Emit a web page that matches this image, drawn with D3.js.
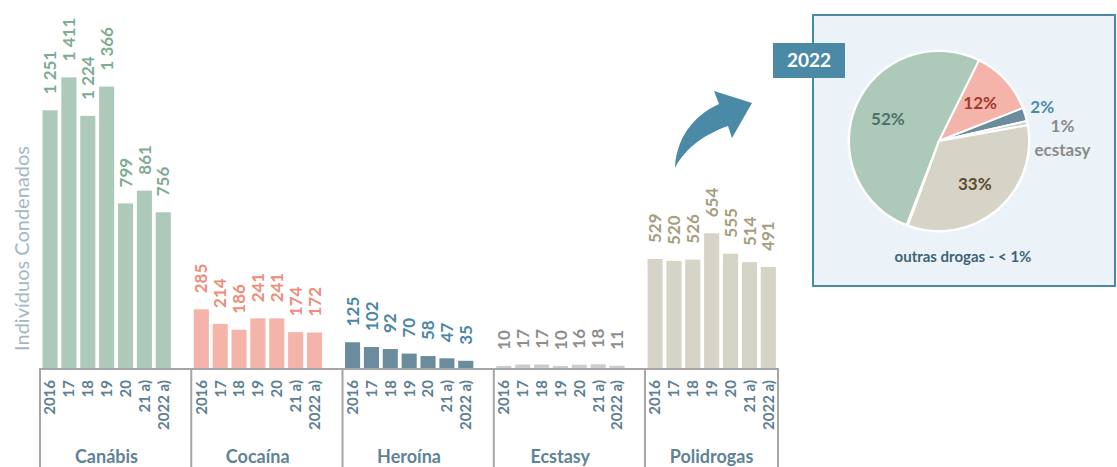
<!DOCTYPE html>
<html><head><meta charset="utf-8">
<script src="https://cdn.jsdelivr.net/npm/d3@7"></script>
<style>body{margin:0;background:#fff}svg{display:block}</style>
</head><body>
<svg id="c" width="1117" height="467"></svg>
<script>
// ---- data ----
const categories = ["Canábis", "Cocaína", "Heroína", "Ecstasy", "Polidrogas"];
const years = ["2016", "17", "18", "19", "20", "21 a)", "2022 a)"];
const canabis = [1251, 1411, 1224, 1366, 799, 861, 756];
const cocaina = [285, 214, 186, 241, 241, 174, 172];
const heroina = [125, 102, 92, 70, 58, 47, 35];
const ecstasy = [10, 17, 17, 10, 16, 18, 11];
const polidrogas = [529, 520, 526, 654, 555, 514, 491];
const pieNames = ["Canábis", "Cocaína", "Heroína", "Ecstasy", "Polidrogas", "Outras"];
const pieValues = [756, 172, 35, 11, 491, 3];
const pieLabels = ["52%", "12%", "2%", "1%", "33%", ""];

// ---- styles ----
const barColors = ["#acc9b9", "#f4b4a9", "#6b8c9c", "#cdcdcd", "#d6d3c7"];
const labelColors = ["#7eab93", "#f08c7a", "#4a87a5", "#8e8e8e", "#a59e80"];
const pieColors = ["#acc9b9", "#f4b4a9", "#6b8c9c", "#cdcdcd", "#d6d3c7", "#9e9e9e"];
const pieTextColors = ["#50706b", "#a3392b", "#4a8aaa", "#8a8a8a", "#5e4b2d", "#000"];
const FONT = "Lato, 'Open Sans', sans-serif";

const seriesByCat = [canabis, cocaina, heroina, ecstasy, polidrogas];
const svg = d3.select("#c");
const fmt = d3.formatLocale({decimal: ",", thousands: " ", grouping: [3], currency: ["", "€"]}).format(",d");

const x0 = d3.scaleBand().domain(categories).range([40, 778]).paddingInner(0.121).paddingOuter(0);
const x1 = d3.scaleBand().domain(years).range([2.5, 130.8]).paddingInner(0.2).paddingOuter(0);
const y = d3.scaleLinear().domain([0, 1500]).range([368, 59]);

// y axis title
svg.append("text")
  .attr("transform", `translate(22,${(140 + 357) / 2}) rotate(-90)`)
  .attr("dy", "0.36em")
  .attr("text-anchor", "middle")
  .attr("font-family", FONT).attr("font-weight", 400).attr("font-size", 20)
  .attr("fill", "#a3b7c2")
  .text("Indivíduos Condenados");

// groups
categories.forEach((cat, ci) => {
  const g = svg.append("g").attr("transform", `translate(${x0(cat)},0)`);
  const vals = seriesByCat[ci];
  g.selectAll("rect").data(vals).join("rect")
    .attr("x", (d, i) => x1(years[i]))
    .attr("width", x1.bandwidth())
    .attr("y", d => y(d))
    .attr("height", d => y(0) - y(d))
    .attr("fill", barColors[ci]);
  // value labels
  g.selectAll("text.v").data(vals).join("text").attr("class", "v")
    .attr("transform", (d, i) => `translate(${x1(years[i]) + x1.bandwidth() / 2},${y(d) - 16}) rotate(-90)`)
    .attr("dy", "0.36em")
    .attr("text-anchor", "start")
    .attr("font-family", FONT).attr("font-weight", 700).attr("font-size", 17)
    .attr("fill", labelColors[ci])
    .text(d => fmt(d));
  // tick labels
  g.selectAll("text.t").data(years).join("text").attr("class", "t")
    .attr("transform", d => `translate(${x1(d) + x1.bandwidth() / 2},${y(0) + 12}) rotate(-90)`)
    .attr("dy", "0.36em")
    .attr("text-anchor", "end")
    .attr("font-family", FONT).attr("font-weight", 700).attr("font-size", 15)
    .attr("fill", "#5e8093")
    .text(d => d);
  // category label
  g.append("text")
    .attr("x", x0.bandwidth() / 2).attr("y", 463)
    .attr("text-anchor", "middle")
    .attr("font-family", FONT).attr("font-weight", 700).attr("font-size", 18)
    .attr("fill", "#5f8396")
    .text(cat);
  // separator
  g.append("line").attr("x1", 0).attr("x2", 0).attr("y1", y(0)).attr("y2", 467)
    .attr("stroke", "#a6a6a6").attr("stroke-width", 2);
});
// right border & baseline
const xr = x0(categories[categories.length - 1]) + x0.bandwidth();
svg.append("line").attr("x1", xr).attr("x2", xr).attr("y1", y(0)).attr("y2", 467)
  .attr("stroke", "#a6a6a6").attr("stroke-width", 2);
svg.append("line").attr("x1", x0(categories[0]) - 1).attr("x2", xr + 1).attr("y1", y(0) + 1).attr("y2", y(0) + 1)
  .attr("stroke", "#a6a6a6").attr("stroke-width", 2);

// arrow
svg.append("path")
  .attr("d", "M675,168 C676,140 692,116 719,104 L714,91 L752,103 L732,138 L728,126 C705,134 685,148 675,168 Z")
  .attr("fill", "#4a8aa6");

// inset box
svg.append("rect").attr("x", 813).attr("y", 15).attr("width", 302).attr("height", 271)
  .attr("fill", "#ebf3f8").attr("stroke", "#4a8aa6").attr("stroke-width", 2);
svg.append("rect").attr("x", 773).attr("y", 43).attr("width", 72).attr("height", 35)
  .attr("fill", "#4a8aa6");
svg.append("text").attr("x", 809).attr("y", 67).attr("text-anchor", "middle")
  .attr("font-family", FONT).attr("font-weight", 700).attr("font-size", 19).attr("fill", "#fff")
  .text("2022");

// pie
const cx = 939, cy = 141, R = 90;
const start = 201 * Math.PI / 180;
const pie = d3.pie().sort(null).startAngle(start).endAngle(start + 2 * Math.PI);
const arcs = pie(pieValues);
const arc = d3.arc().innerRadius(0).outerRadius(R);
const pg = svg.append("g").attr("transform", `translate(${cx},${cy})`);
pg.append("circle").attr("r", R + 1.5).attr("fill", "#fff");
pg.selectAll("path").data(arcs).join("path")
  .attr("d", arc)
  .attr("fill", (d, i) => pieColors[i])
  .attr("stroke", "#fff").attr("stroke-width", 2);
const inArc = d3.arc().innerRadius(R * 0.62).outerRadius(R * 0.62);
const outArc = d3.arc().innerRadius(R * 1.2).outerRadius(R * 1.2);
const farArc = d3.arc().innerRadius(R * 1.4).outerRadius(R * 1.4);
arcs.forEach((a, i) => {
  if (!pieLabels[i]) return;
  const outside = i === 2 || i === 3;
  const [px, py] = (i === 3 ? farArc : (outside ? outArc : inArc)).centroid(a);
  const t = pg.append("text")
    .attr("x", px).attr("y", py)
    .attr("text-anchor", "middle")
    .attr("font-family", FONT).attr("font-weight", 700).attr("font-size", 17)
    .attr("fill", pieTextColors[i]);
  if (i === 3) {
    t.append("tspan").attr("x", px).attr("dy", "0.95em").text(pieLabels[i]);
    t.append("tspan").attr("x", px).attr("dy", "1.4em").text(pieNames[i].toLowerCase());
  } else {
    t.attr("dy", i === 2 ? "0.2em" : "0.36em").text(pieLabels[i]);
  }
});
svg.append("text").attr("x", 963).attr("y", 262).attr("text-anchor", "middle")
  .attr("font-family", FONT).attr("font-weight", 700).attr("font-size", 15).attr("fill", "#3e6377")
  .text("outras drogas - < 1%");
</script>
</body></html>
